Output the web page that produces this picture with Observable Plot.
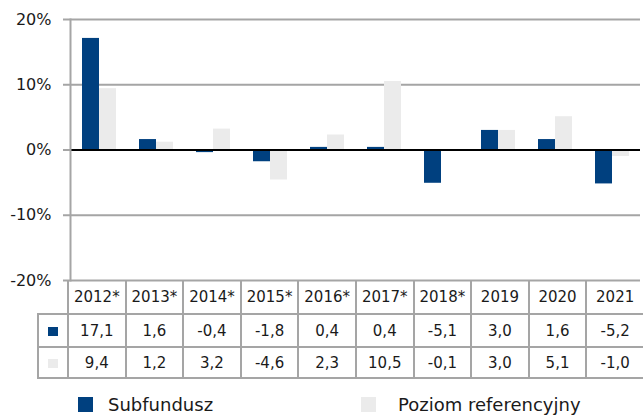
<!DOCTYPE html>
<html>
<head>
<meta charset="utf-8">
<script src="https://cdn.jsdelivr.net/npm/d3@7"></script>
<script src="https://cdn.jsdelivr.net/npm/@observablehq/plot@0.6"></script>
<style>
  html, body { margin: 0; padding: 0; background: #fff; }
  #wrap { position: relative; width: 643px; height: 415px; overflow: hidden; font-family: "DejaVu Sans", sans-serif; color: #1a1a1a; }
  #chart { position: absolute; left: 0; top: 0; }
  #tbl { position: absolute; left: 37px; top: 280px; border-collapse: collapse; table-layout: fixed; width: 606px; font-size: 15px; }
  #tbl td { border: 2px solid #a5a5a5; text-align: center; padding: 0; vertical-align: middle; }
  #tbl tr.head td { border-top: none; height: 33px; }
  #tbl tr.head td.corner { border: none; }
  #tbl tr.r1 td { height: 31px; }
  #tbl tr.r2 td { height: 29px; }
  .sw { display: inline-block; width: 10px; height: 9px; }
  .lg-sq { position: absolute; width: 15px; height: 15px; }
  .lg-tx { position: absolute; font-size: 18px; line-height: 18px; white-space: nowrap; }
</style>
</head>
<body>
<div id="wrap">
  <div id="chart"></div>
  <table id="tbl"></table>
  <div id="legend"></div>
</div>
<script>
const years = ["2012*", "2013*", "2014*", "2015*", "2016*", "2017*", "2018*", "2019", "2020", "2021"];
const subfundusz = [17.1, 1.6, -0.4, -1.8, 0.4, 0.4, -5.1, 3.0, 1.6, -5.2];
const poziom = [9.4, 1.2, 3.2, -4.6, 2.3, 10.5, -0.1, 3.0, 5.1, -1.0];
const seriesNames = ["Subfundusz", "Poziom referencyjny"];
const seriesColors = ["#00407f", "#ebebeb"];
const yTicks = [-20, -10, 0, 10, 20];

const data = years.flatMap((y, i) => [
  {year: y, series: seriesNames[0], value: subfundusz[i]},
  {year: y, series: seriesNames[1], value: poziom[i]}
]);

const chart = Plot.plot({
  width: 643,
  height: 290,
  marginLeft: 67,
  marginRight: 0,
  marginTop: 19,
  marginBottom: 10,
  style: {fontFamily: "DejaVu Sans", fontSize: "16px", color: "#1a1a1a", background: "transparent"},
  fx: {domain: years, padding: 0, axis: null},
  x: {domain: seriesNames, paddingInner: 0, paddingOuter: 0.65, axis: null},
  y: {domain: [-20, 20], axis: null},
  color: {domain: seriesNames, range: seriesColors},
  marks: [
    Plot.ruleY(yTicks.filter(d => d !== 0), {stroke: "#a5a5a5", strokeWidth: 2}),
    Plot.barY(data, {fx: "year", x: "series", y: "value", fill: "series"}),
    Plot.ruleY([0], {stroke: "#000", strokeWidth: 2}),
    Plot.frame({anchor: "left", facetAnchor: "left", stroke: "#a5a5a5", strokeWidth: 2}),
    Plot.axisY(yTicks, {
      tickFormat: d => `${d}%`,
      tickSize: 7,
      tickPadding: 12,
      stroke: "#a5a5a5",
      strokeWidth: 2,
      fill: "#1a1a1a",
      fontSize: 16,
      label: null
    })
  ]
});
document.getElementById("chart").appendChild(chart);

const fmt = v => v.toFixed(1).replace(".", ",");
const tbl = document.getElementById("tbl");
let html = '<colgroup><col style="width:30px">' + years.map(() => '<col style="width:57.6px">').join("") + '</colgroup>';
html += '<tr class="head"><td class="corner"></td>' + years.map(y => `<td>${y}</td>`).join("") + '</tr>';
html += `<tr class="r1"><td><span class="sw" style="background:${seriesColors[0]}"></span></td>` + subfundusz.map(v => `<td>${fmt(v)}</td>`).join("") + '</tr>';
html += `<tr class="r2"><td><span class="sw" style="background:${seriesColors[1]}"></span></td>` + poziom.map(v => `<td>${fmt(v)}</td>`).join("") + '</tr>';
tbl.innerHTML = html;

const legend = document.getElementById("legend");
const lgPos = [{sq: 78, tx: 108}, {sq: 361, tx: 398}];
legend.innerHTML = seriesNames.map((s, i) =>
  `<div class="lg-sq" style="left:${lgPos[i].sq}px;top:397px;background:${seriesColors[i]}"></div>` +
  `<div class="lg-tx" style="left:${lgPos[i].tx}px;top:396px">${s}</div>`
).join("");
</script>
</body>
</html>
